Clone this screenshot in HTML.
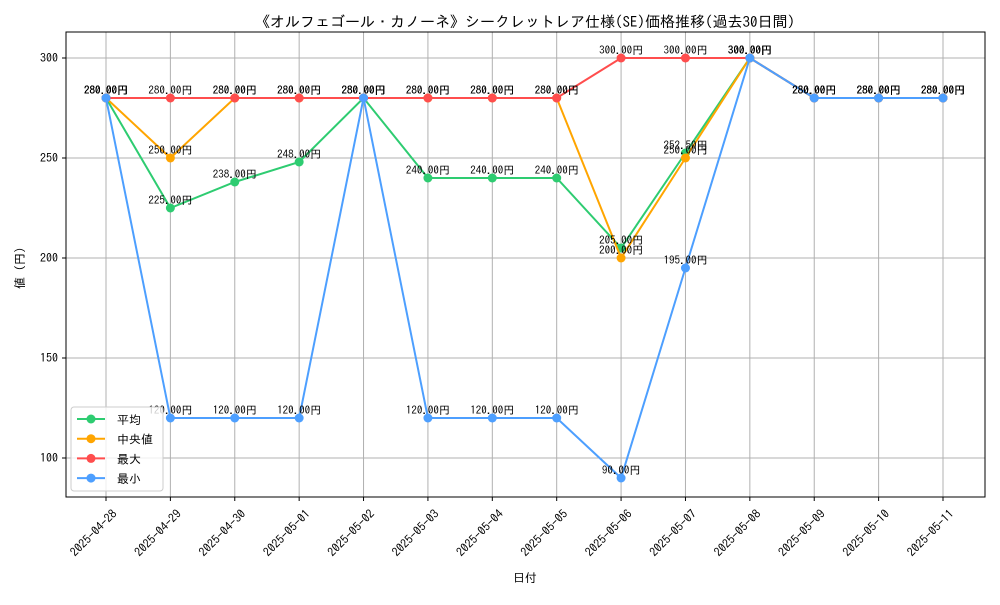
<!DOCTYPE html>
<html><head><meta charset="utf-8"><style>
body{margin:0;background:#fff}
svg text{font-family:"IPAGothic","Noto Sans CJK JP",monospace}
</style></head><body>
<svg id="chart" width="1000" height="600" xmlns="http://www.w3.org/2000/svg">
<rect width="1000" height="600" fill="#fff"/>
<text x="525" y="27" text-anchor="middle" font-size="15">《オルフェゴール・カノーネ》シークレットレア仕様(SE)価格推移(過去30日間)</text>
<g id="grid"></g>
<g id="series"></g>
<g id="labels"></g>
<rect x="66" y="32" width="919" height="465" fill="none" stroke="#000" stroke-width="1"/>
<g id="axes"></g>
<text x="525" y="582" text-anchor="middle" font-size="12">日付</text>
<text x="0" y="0" transform="translate(24,265) rotate(-90)" text-anchor="middle" font-size="12">値（円）</text>
<g id="legend"></g>
</svg>
<script>
const dates=["2025-04-28","2025-04-29","2025-04-30","2025-05-01","2025-05-02","2025-05-03","2025-05-04","2025-05-05","2025-05-06","2025-05-07","2025-05-08","2025-05-09","2025-05-10","2025-05-11"];
const avgValues=[280,225,238,248,280,240,240,240,205,252.5,300,280,280,280];
const medianValues=[280,250,280,280,280,280,280,280,200,250,300,280,280,280];
const maxValues=[280,280,280,280,280,280,280,280,300,300,300,280,280,280];
const minValues=[280,120,120,120,280,120,120,120,90,195,300,280,280,280];
const yTicks=[100,150,200,250,300];
const seriesNames=["平均","中央値","最大","最小"];
const ns="http://www.w3.org/2000/svg";
const X0=106,X1=943,yMin=80.5,yMax=313,T=32,B=497;
function xs(i){return X0+(X1-X0)*i/(dates.length-1);}
function ys(v){return B-(v-yMin)/(yMax-yMin)*(B-T);}
function mk(tag,attrs,parent){const e=document.createElementNS(ns,tag);for(const k in attrs)e.setAttribute(k,attrs[k]);parent.appendChild(e);return e;}
const grid=document.getElementById('grid'),axes=document.getElementById('axes');
dates.forEach((d,i)=>{
  const l=mk('line',{x1:xs(i),x2:xs(i),y1:T,y2:B,stroke:'#b0b0b0','stroke-width':1},grid);
  
  
  const t=mk('line',{x1:xs(i),x2:xs(i),y1:B,y2:B+4,stroke:'#000'},axes);
  
  
  const tx=mk('text',{x:0,y:0,transform:`translate(${xs(i)+6},${B+12}) rotate(-45)`,'text-anchor':'end','dominant-baseline':'hanging','font-size':12},axes);
  tx.textContent=d;
  
  
});
yTicks.forEach(v=>{
  const l=mk('line',{x1:66,x2:985,y1:ys(v),y2:ys(v),stroke:'#b0b0b0','stroke-width':1},grid);
  
  
  const t=mk('line',{x1:62,x2:66,y1:ys(v),y2:ys(v),stroke:'#000'},axes);
  
  
  const tx=mk('text',{x:58,y:ys(v)+4,'text-anchor':'end','font-size':12},axes);
  tx.textContent=v;
  
  
});
const allSeries=[avgValues,medianValues,maxValues,minValues];
const colors=["#2ecc71","#ffa500","#ff4d4d","#4d9fff"];
const keys=["avg","median","max","min"];
const sg=document.getElementById('series'),lg=document.getElementById('labels');
allSeries.forEach((vals,s)=>{
  const p=mk('polyline',{points:vals.map((v,i)=>xs(i)+','+ys(v)).join(' '),fill:'none',stroke:colors[s],'stroke-width':2},sg);
  
  
  vals.forEach((v,i)=>{
    const c=mk('circle',{cx:xs(i),cy:ys(v),r:4.5,fill:colors[s]},sg);
    
    
    const t=mk('text',{x:xs(i),y:ys(v)-4,'text-anchor':'middle','font-size':11},lg);
    t.textContent=v.toFixed(2)+'円';
    
    
  });
});
const leg=document.getElementById('legend');
mk('rect',{x:71,y:407,width:92,height:84,rx:3,fill:'#fff','fill-opacity':0.8,stroke:'#ccc'},leg);
seriesNames.forEach((n,s)=>{
  const y=419+s*19.7;
  const g=mk('g',{},leg);
  
  
  mk('line',{x1:77,x2:105,y1:y,y2:y,stroke:colors[s],'stroke-width':2},g);
  mk('circle',{cx:91,cy:y,r:4.5,fill:colors[s]},g);
  const t=mk('text',{x:117,y:y+5,'font-size':12},g);
  t.textContent=n;
});
</script>
</body></html>
